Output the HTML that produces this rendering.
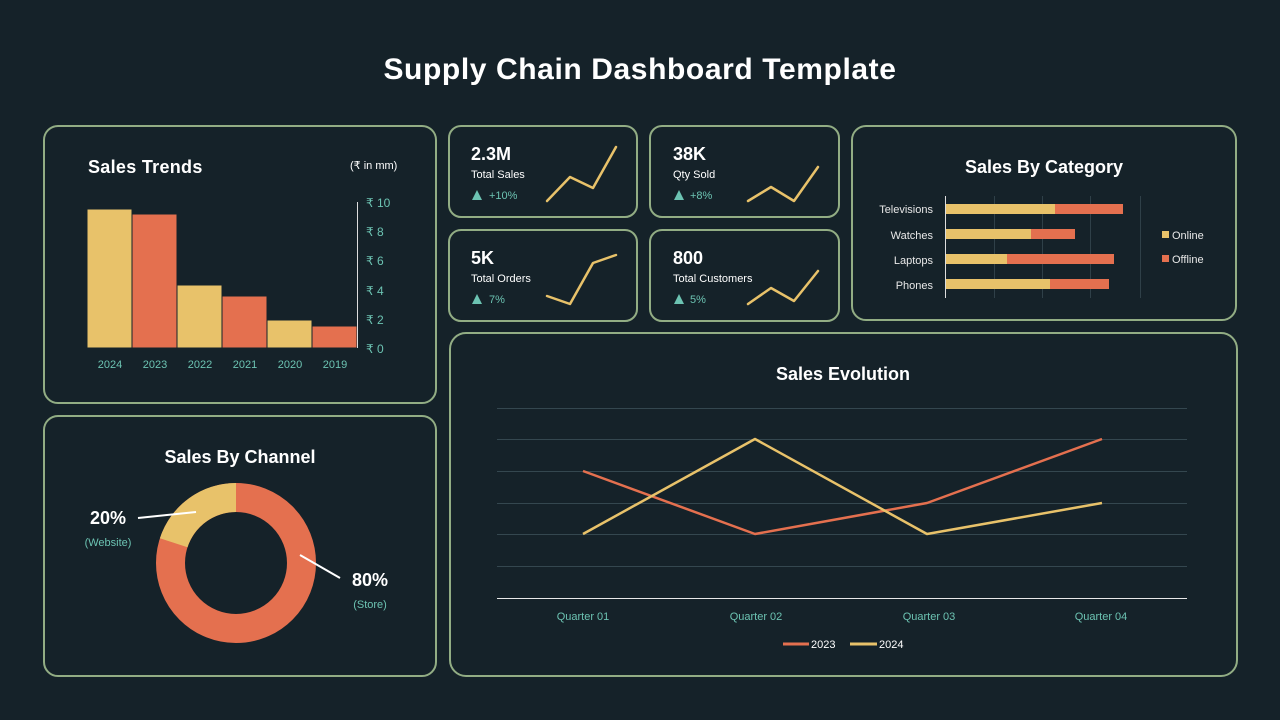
<!DOCTYPE html>
<html><head><meta charset="utf-8"><style>
html,body{margin:0;padding:0;background:#152229;}
svg{display:block;font-family:"Liberation Sans",sans-serif;}
</style></head><body>
<svg width="1280" height="720" viewBox="0 0 1280 720" xmlns="http://www.w3.org/2000/svg">
<rect width="1280" height="720" fill="#152229"/>
<text x="640" y="79" text-anchor="middle" fill="#fff" font-size="30" font-weight="bold" letter-spacing="0.6">Supply Chain Dashboard Template</text>
<g fill="none" stroke="#92ad84" stroke-width="2">
<rect x="44" y="126" width="392" height="277" rx="14"/>
<rect x="449" y="126" width="188" height="91" rx="12"/>
<rect x="650" y="126" width="189" height="91" rx="12"/>
<rect x="449" y="230" width="188" height="91" rx="12"/>
<rect x="650" y="230" width="189" height="91" rx="12"/>
<rect x="852" y="126" width="384" height="194" rx="14"/>
<rect x="44" y="416" width="392" height="260" rx="14"/>
<rect x="450" y="333" width="787" height="343" rx="16"/>
</g>
<!-- Sales Trends -->
<text x="88" y="173" fill="#fff" font-size="18" font-weight="bold" letter-spacing="0.3">Sales Trends</text>
<text x="350" y="169" fill="#fff" font-size="11">(₹ in mm)</text>
<g stroke="#152229" stroke-width="1">
<rect x="87" y="209" width="45" height="139" fill="#e8c26a"/>
<rect x="132" y="214" width="45" height="134" fill="#e4704f"/>
<rect x="177" y="285" width="45" height="63" fill="#e8c26a"/>
<rect x="222" y="296" width="45" height="52" fill="#e4704f"/>
<rect x="267" y="320" width="45" height="28" fill="#e8c26a"/>
<rect x="312" y="326" width="45" height="22" fill="#e4704f"/>
</g>
<line x1="357.5" y1="202" x2="357.5" y2="348" stroke="#ddd" stroke-width="1"/>
<g fill="#6cc3b2" font-size="12">
<text x="366" y="207">₹ 10</text><text x="366" y="236">₹ 8</text><text x="366" y="265">₹ 6</text>
<text x="366" y="295">₹ 4</text><text x="366" y="324">₹ 2</text><text x="366" y="353">₹ 0</text>
</g>
<g fill="#6cc3b2" font-size="11" text-anchor="middle">
<text x="110" y="368">2024</text><text x="155" y="368">2023</text><text x="200" y="368">2022</text>
<text x="245" y="368">2021</text><text x="290" y="368">2020</text><text x="335" y="368">2019</text>
</g>
<!-- KPIs -->
<g fill="#fff" font-size="18" font-weight="bold">
<text x="471" y="160">2.3M</text><text x="673" y="160">38K</text>
<text x="471" y="264">5K</text><text x="673" y="264">800</text>
</g>
<g fill="#fff" font-size="11">
<text x="471" y="178">Total Sales</text><text x="673" y="178">Qty Sold</text>
<text x="471" y="282">Total Orders</text><text x="673" y="282">Total Customers</text>
</g>
<g fill="#6cc3b2">
<path d="M472 200 L477 190 L482 200Z"/><path d="M674 200 L679 190 L684 200Z"/>
<path d="M472 304 L477 294 L482 304Z"/><path d="M674 304 L679 294 L684 304Z"/>
</g>
<g fill="#6cc3b2" font-size="11">
<text x="489" y="199">+10%</text><text x="690" y="199">+8%</text>
<text x="489" y="303">7%</text><text x="690" y="303">5%</text>
</g>
<g fill="none" stroke="#e8c26a" stroke-width="2.5" stroke-linecap="round" stroke-linejoin="round">
<polyline points="547,201 570,177 593,188 616,147"/>
<polyline points="748,201 771,187 794,201 818,167"/>
<polyline points="547,296 570,304 593,263 616,255"/>
<polyline points="748,304 771,288 794,301 818,271"/>
</g>
<!-- Category -->
<text x="1044" y="173" text-anchor="middle" fill="#fff" font-size="18" font-weight="bold">Sales By Category</text>
<g stroke="#2f4048" stroke-width="1">
<line x1="994.5" y1="196" x2="994.5" y2="298"/><line x1="1042.5" y1="196" x2="1042.5" y2="298"/>
<line x1="1090.5" y1="196" x2="1090.5" y2="298"/><line x1="1140.5" y1="196" x2="1140.5" y2="298"/>
</g>
<line x1="945.5" y1="196" x2="945.5" y2="298" stroke="#ddd"/>
<rect x="946" y="204" width="109" height="10" fill="#e8c26a"/><rect x="1055" y="204" width="68" height="10" fill="#e4704f"/>
<rect x="946" y="229" width="85" height="10" fill="#e8c26a"/><rect x="1031" y="229" width="44" height="10" fill="#e4704f"/>
<rect x="946" y="254" width="61" height="10" fill="#e8c26a"/><rect x="1007" y="254" width="107" height="10" fill="#e4704f"/>
<rect x="946" y="279" width="104" height="10" fill="#e8c26a"/><rect x="1050" y="279" width="59" height="10" fill="#e4704f"/>
<g fill="#e8e8e8" font-size="11" text-anchor="end">
<text x="933" y="213">Televisions</text><text x="933" y="239">Watches</text>
<text x="933" y="264">Laptops</text><text x="933" y="289">Phones</text>
</g>
<rect x="1162" y="231" width="7" height="7" fill="#e8c26a"/><rect x="1162" y="255" width="7" height="7" fill="#e4704f"/>
<g fill="#e8e8e8" font-size="11"><text x="1172" y="239">Online</text><text x="1172" y="263">Offline</text></g>
<!-- Channel -->
<text x="240" y="463" text-anchor="middle" fill="#fff" font-size="18" font-weight="bold">Sales By Channel</text>
<circle cx="236" cy="563" r="65.5" fill="none" stroke="#e4704f" stroke-width="29"/>
<path d="M236 483 A80 80 0 0 0 159.9 538.3 L187.5 547.2 A51 51 0 0 1 236 512Z" fill="#e8c26a"/>
<line x1="138" y1="518" x2="196" y2="512" stroke="#fff" stroke-width="2"/>
<line x1="300" y1="555" x2="340" y2="578" stroke="#fff" stroke-width="2"/>
<text x="108" y="524" text-anchor="middle" fill="#fff" font-size="18" font-weight="bold">20%</text>
<text x="108" y="546" text-anchor="middle" fill="#6cc3b2" font-size="11">(Website)</text>
<text x="370" y="586" text-anchor="middle" fill="#fff" font-size="18" font-weight="bold">80%</text>
<text x="370" y="608" text-anchor="middle" fill="#6cc3b2" font-size="11">(Store)</text>
<!-- Evolution -->
<text x="843" y="380" text-anchor="middle" fill="#fff" font-size="18" font-weight="bold">Sales Evolution</text>
<g stroke="#34474f" stroke-width="1">
<line x1="497" y1="408.5" x2="1187" y2="408.5"/><line x1="497" y1="439.5" x2="1187" y2="439.5"/>
<line x1="497" y1="471.5" x2="1187" y2="471.5"/><line x1="497" y1="503.5" x2="1187" y2="503.5"/>
<line x1="497" y1="534.5" x2="1187" y2="534.5"/><line x1="497" y1="566.5" x2="1187" y2="566.5"/>
</g>
<line x1="497" y1="598.5" x2="1187" y2="598.5" stroke="#e8e8e8"/>
<polyline points="583,471 755,534 927,503 1102,439" fill="none" stroke="#e4704f" stroke-width="2.5" stroke-linejoin="round"/>
<polyline points="583,534 755,439 927,534 1102,503" fill="none" stroke="#e8c26a" stroke-width="2.5" stroke-linejoin="round"/>
<g fill="#6cc3b2" font-size="11" text-anchor="middle">
<text x="583" y="620">Quarter 01</text><text x="756" y="620">Quarter 02</text>
<text x="929" y="620">Quarter 03</text><text x="1101" y="620">Quarter 04</text>
</g>
<line x1="783" y1="644" x2="809" y2="644" stroke="#e4704f" stroke-width="3"/>
<line x1="850" y1="644" x2="877" y2="644" stroke="#e8c26a" stroke-width="3"/>
<g fill="#fff" font-size="11"><text x="811" y="648">2023</text><text x="879" y="648">2024</text></g>
</svg>
</body></html>
